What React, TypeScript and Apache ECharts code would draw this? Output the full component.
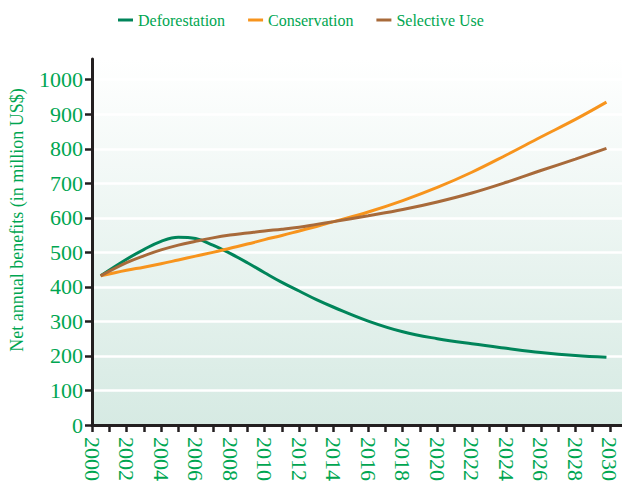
import React, { useEffect, useRef } from "react";
import * as echarts from "echarts";

const years = [2000.5, 2002, 2003, 2004, 2005, 2006, 2007, 2008, 2009, 2010, 2011, 2012, 2013, 2014, 2016, 2018, 2020, 2022, 2024, 2026, 2028, 2029.8];
const deforestation = [432, 480, 508, 532, 544, 540, 521, 497, 470, 441, 413, 388, 363, 341, 301, 270, 250, 235, 222, 210, 201, 196];
const conservation = [432, 448, 457, 467, 478, 489, 500, 512, 524, 537, 549, 562, 575, 589, 617, 650, 688, 732, 782, 834, 885, 935];
const selectiveUse = [432, 470, 490, 507, 521, 532, 542, 550, 556, 562, 567, 573, 581, 589, 606, 624, 646, 672, 703, 737, 770, 801];

const yTicks = [0, 100, 200, 300, 400, 500, 600, 700, 800, 900, 1000];
const xTicks = Array.from({ length: 31 }, (_, i) => 2000 + i);
const xLabels = xTicks.filter((y) => y % 2 === 0);

const GREEN = "#00a651";
const FONT = "Liberation Serif";

export default function App() {
  const ref = useRef<HTMLDivElement>(null);
  useEffect(() => {
    document.body.style.margin = "0";
    const chart = echarts.init(ref.current!, null, { renderer: "svg" });
    const pair = (vals: number[]) => years.map((y, i) => [y, vals[i]]);
    chart.setOption({
      animation: false,
      legend: {
        left: 113,
        top: 7,
        icon: "rect",
        itemWidth: 15,
        itemHeight: 3,
        itemGap: 23,
        textStyle: { color: GREEN, fontSize: 16, fontFamily: FONT },
        data: ["Deforestation", "Conservation", "Selective Use"],
      },
      grid: {
        left: 92,
        right: 0,
        top: 59,
        bottom: 60,
        show: true,
        borderWidth: 0,
        backgroundColor: new echarts.graphic.LinearGradient(0, 0, 0, 1, [
          { offset: 0, color: "#ffffff" },
          { offset: 1, color: "#d6eae3" },
        ]),
      },
      xAxis: {
        type: "value",
        min: 2000,
        max: 2030.7,
        interval: 1,
        axisLine: { show: true, lineStyle: { color: "#231f20", width: 3 } },
        axisTick: { show: true, length: 7, lineStyle: { color: "#231f20", width: 2.5 }, customValues: xTicks },
        splitLine: { show: false },
        axisLabel: {
          customValues: xLabels,
          rotate: -90,
          margin: 12,
          color: GREEN,
          fontSize: 22,
          fontFamily: FONT,
          formatter: (v: number) => String(v),
        },
      },
      yAxis: {
        type: "value",
        min: 0,
        max: 1060,
        interval: 100,
        axisLine: { show: true, lineStyle: { color: "#231f20", width: 3 } },
        axisTick: { show: true, length: 7, lineStyle: { color: "#231f20", width: 2.5 }, customValues: yTicks },
        splitLine: { show: true, lineStyle: { color: "#ffffff", width: 2.5 } },
        axisLabel: {
          customValues: yTicks,
          margin: 9,
          color: GREEN,
          fontSize: 22,
          fontFamily: FONT,
          formatter: (v: number) => String(v),
        },
      },
      graphic: [
        {
          type: "text",
          x: 17,
          y: 220,
          rotation: Math.PI / 2,
          style: {
            text: "Net annual benefits (in million US$)",
            fill: GREEN,
            fontSize: 18,
            fontFamily: FONT,
            textAlign: "center",
            textVerticalAlign: "middle",
          },
        },
      ],
      series: [
        { name: "Deforestation", type: "line", data: pair(deforestation), smooth: 0.4, symbol: "none", lineStyle: { color: "#00855a", width: 3 }, itemStyle: { color: "#00855a" } },
        { name: "Conservation", type: "line", data: pair(conservation), smooth: 0.4, symbol: "none", lineStyle: { color: "#f7941d", width: 3 }, itemStyle: { color: "#f7941d" } },
        { name: "Selective Use", type: "line", data: pair(selectiveUse), smooth: 0.4, symbol: "none", lineStyle: { color: "#a86a3a", width: 3 }, itemStyle: { color: "#a86a3a" } },
      ],
    });
    return () => chart.dispose();
  }, []);
  return <div ref={ref} style={{ width: 622, height: 485 }} />;
}
